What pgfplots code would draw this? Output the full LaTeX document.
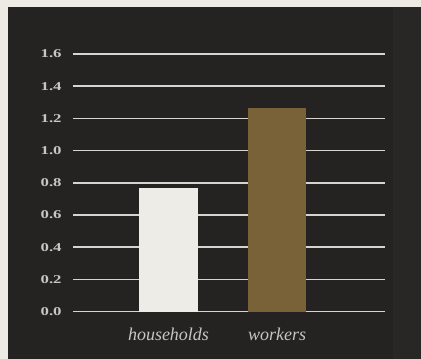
\documentclass[border=0pt]{standalone}
\usepackage{pgfplots}
\pgfplotsset{compat=1.18}
\usepackage{fontspec}
\setmainfont{Liberation Serif}
\definecolor{cream}{HTML}{ECEAE3}
\definecolor{panel}{HTML}{252321}
\definecolor{panelr}{HTML}{282725}
\definecolor{gridc}{HTML}{D6D4CF}
\definecolor{labc}{HTML}{C8C6C1}
\definecolor{hh}{HTML}{EEECE6}
\definecolor{wk}{HTML}{7A6238}
\begin{document}
\begin{tikzpicture}[x=0.75pt,y=0.75pt]
\fill[cream] (0,0) rectangle (421,359);
\fill[panel] (8,0) rectangle (421,352);
\fill[panelr] (393,0) rectangle (421,352);
\begin{axis}[
  at={(54.75pt,35.5pt)}, anchor=south west,
  scale only axis, width=234pt, height=193.3pt,
  xmin=-0.88, xmax=1.995, ymin=0, ymax=1.6,
  axis line style={draw=none},
  major tick length=0pt,
  xtick={0,1}, xticklabels={households,workers},
  ytick={0,0.2,...,1.61},
  ymajorgrids,
  grid style={gridc, line width=1.2pt},
  yticklabel={\scalebox{1.4}[1]{\pgfmathprintnumber[fixed,precision=1,zerofill]{\tick}}},
  yticklabel style={font=\fontsize{9}{9}\selectfont\bfseries, text=labc, xshift=-5pt},
  xticklabel style={font=\fontsize{13.5}{14}\selectfont\itshape, text=labc, yshift=-9pt},
  /pgf/number format/assume math mode=true,
  ybar, bar width=44pt,
]
\addplot[fill=hh, draw=none, bar shift=0pt] coordinates {(0,0.766)};
\addplot[fill=wk, draw=none, bar shift=0pt] coordinates {(1,1.267)};
\end{axis}
\end{tikzpicture}
\end{document}
